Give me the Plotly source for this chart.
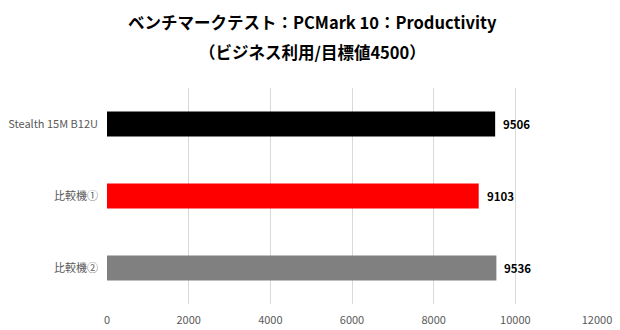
import plotly.graph_objects as go

categories = ["Stealth 15M B12U", "比較機①", "比較機②"]
values = [9506, 9103, 9536]
colors = ["#000000", "#ff0000", "#808080"]
tick_vals = [0, 2000, 4000, 6000, 8000, 10000, 12000]
tick_text = [str(t) for t in tick_vals]
title_lines = ["ベンチマークテスト：PCMark 10：Productivity", "（ビジネス利用/目標値4500）"]

font_jp = "Noto Sans CJK JP, Noto Sans, sans-serif"

fig = go.Figure()
fig.add_trace(go.Bar(
    y=categories, x=values, orientation="h",
    marker=dict(color=colors, line=dict(width=0)),
    hoverinfo="skip",
))
for c, v in zip(categories, values):
    fig.add_annotation(x=v, y=c, text=f"<b>{v}</b>", showarrow=False,
                       xanchor="left", xshift=6,
                       font=dict(family=font_jp, size=11.5, color="#000000"))

# title lines as annotations (paper coords)
plot_h = 330 - 88 - 26
for line, py in zip(title_lines, [22, 52]):
    fig.add_annotation(text=f"<b>{line}</b>", xref="paper", yref="paper",
                       x=(312 - 107) / 490, y=(304 - py) / plot_h,
                       xanchor="center", yanchor="middle", showarrow=False,
                       font=dict(family=font_jp, size=16.5, color="#000000"))

fig.update_layout(
    width=620, height=330,
    margin=dict(l=107, r=23, t=88, b=26, autoexpand=False),
    paper_bgcolor="white", plot_bgcolor="white",
    bargap=0.65,
    showlegend=False,
    xaxis=dict(
        range=[0, 12000], tickvals=tick_vals, ticktext=tick_text,
        showgrid=True, gridcolor="#d9d9d9", gridwidth=1,
        zeroline=False, showline=False, automargin=False,
        tickfont=dict(family=font_jp, size=11, color="#595959"),
        ticks="", ticklen=0, ticklabelstandoff=8,
    ),
    yaxis=dict(
        autorange="reversed", automargin=False,
        tickfont=dict(family=font_jp, size=11, color="#595959"),
        ticks="", ticklen=0, ticklabelstandoff=8,
        showline=False,
    ),
)
fig.write_html("out.html")
